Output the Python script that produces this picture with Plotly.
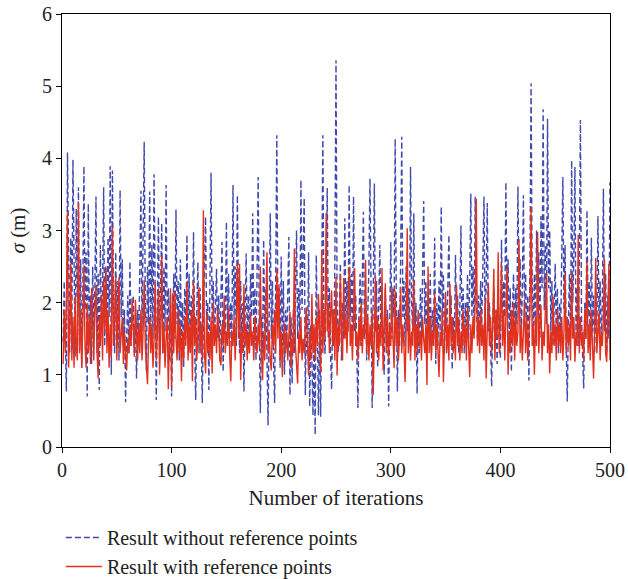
import plotly.graph_objects as go

iterations = list(range(1, 501))

without_ref = [
    1.45, 2.3, 1.6, 0.77, 4.08, 2.2, 1.3, 2.9, 1.7, 3.98,
    2.4, 1.25, 3.3, 2.0, 3.6, 1.4, 2.6, 1.1, 2.2, 3.89,
    1.9, 2.7, 0.7, 3.37, 1.5, 2.1, 1.15, 2.5, 1.6, 2.2,
    3.47, 1.3, 2.4, 0.79, 2.8, 1.6, 2.2, 3.6, 1.4, 2.5,
    1.5, 2.9, 1.8, 3.89, 1.0, 3.83, 2.0, 1.3, 2.7, 1.6,
    2.3, 1.2, 3.56, 1.8, 2.6, 1.4, 1.9, 0.62, 1.5, 2.1,
    1.3, 2.57, 1.4, 1.8, 2.1, 1.3, 1.7, 0.95, 1.9, 1.4,
    2.4, 3.55, 1.6, 2.6, 4.23, 2.0, 1.05, 2.5, 1.7, 3.54,
    1.6, 2.8, 1.5, 3.78, 2.1, 0.65, 2.0, 3.19, 1.4, 2.3,
    3.1, 1.3, 2.5, 1.6, 3.63, 1.5, 2.2, 1.2, 2.1, 0.7,
    1.8, 2.4, 1.5, 3.29, 1.7, 2.3, 1.2, 2.6, 1.4, 2.0,
    1.1, 2.2, 1.5, 2.94, 1.6, 2.4, 1.3, 2.1, 1.5, 2.98,
    1.4, 0.65, 1.9, 2.56, 1.3, 2.2, 1.5, 0.61, 1.8, 2.4,
    3.19, 1.6, 2.0, 0.79, 2.5, 3.8, 1.7, 2.3, 1.4, 2.0,
    2.47, 1.5, 2.1, 1.3, 2.0, 2.84, 1.04, 1.9, 1.5, 3.12,
    1.6, 2.4, 1.3, 2.0, 1.5, 3.63, 1.8, 2.5, 1.4, 3.49,
    2.0, 1.3, 2.3, 1.6, 2.0, 0.77, 1.7, 2.68, 1.5, 2.1,
    1.3, 2.4, 1.8, 3.24, 1.5, 2.2, 1.2, 2.5, 3.74, 1.6,
    0.47, 1.8, 1.3, 2.87, 1.6, 2.2, 1.4, 0.3, 1.8, 3.24,
    1.5, 2.3, 1.2, 0.61, 2.4, 4.32, 1.7, 2.2, 1.1, 2.64,
    1.4, 2.3, 1.0, 1.9, 1.4, 2.2, 2.91, 0.72, 1.8, 0.88,
    1.9, 1.3, 2.4, 3.0, 1.5, 2.2, 1.6, 3.7, 1.9, 2.6,
    3.45, 0.72, 1.8, 1.3, 2.7, 0.56, 1.7, 1.2, 0.44, 1.6,
    0.17, 2.66, 1.3, 0.44, 1.9, 0.42, 2.3, 4.32, 1.6, 1.29,
    2.4, 3.59, 1.5, 2.2, 1.3, 0.8, 1.9, 1.4, 2.6, 5.36,
    2.0, 1.3, 1.8, 2.54, 1.2, 2.0, 1.5, 3.17, 1.7, 2.3,
    1.6, 3.63, 1.8, 2.4, 1.4, 3.47, 1.6, 2.1, 1.3, 0.54,
    1.8, 2.4, 1.4, 2.2, 3.26, 1.5, 2.1, 1.2, 1.9, 2.5,
    3.72, 1.7, 0.54, 2.2, 3.65, 1.6, 2.3, 1.1, 1.8, 2.8,
    1.5, 2.1, 1.3, 1.0, 2.2, 1.4, 1.9, 0.56, 1.7, 2.84,
    1.5, 2.2, 1.8, 4.27, 2.1, 0.77, 1.9, 1.4, 2.6, 4.3,
    1.8, 2.3, 1.4, 2.5, 1.6, 2.2, 1.5, 3.88, 2.0, 1.6,
    3.24, 1.5, 2.0, 0.74, 1.8, 1.3, 2.2, 1.5, 2.4, 3.41,
    1.7, 2.3, 1.2, 2.0, 1.5, 2.4, 1.3, 1.9, 1.5, 2.9,
    1.15, 2.0, 1.4, 2.3, 1.6, 3.33, 1.8, 2.4, 1.3, 2.0,
    1.5, 2.2, 2.94, 1.6, 2.1, 1.07, 1.8, 1.4, 2.66, 1.6,
    2.1, 1.3, 1.9, 3.07, 1.5, 2.2, 1.3, 2.0, 1.6, 2.4,
    1.5, 2.3, 3.51, 1.8, 2.5, 1.6, 3.47, 2.2, 1.5, 2.1,
    1.4, 2.3, 1.7, 2.5, 3.47, 1.8, 2.2, 3.38, 1.6, 2.0,
    1.3, 0.84, 1.7, 2.2, 1.4, 1.9, 1.15, 2.1, 1.5, 1.23,
    2.87, 1.6, 2.3, 1.8, 3.67, 2.0, 2.6, 1.5, 2.2, 1.04,
    1.9, 2.4, 1.4, 2.2, 1.7, 3.61, 2.1, 2.6, 1.5, 2.2,
    3.49, 1.8, 2.4, 1.5, 2.1, 0.92, 2.6, 5.04, 2.3, 1.5,
    2.4, 1.6, 3.0, 2.0, 2.7, 1.5, 3.2, 2.2, 4.68, 1.9,
    2.8, 1.7, 4.55, 2.2, 3.0, 1.6, 2.3, 1.4, 1.9, 2.54,
    1.5, 2.2, 1.3, 2.0, 1.6, 2.6, 3.74, 1.9, 2.8, 1.5,
    0.63, 1.7, 2.4, 1.5, 3.97, 2.0, 2.6, 3.88, 1.6, 2.2,
    1.4, 2.5, 4.53, 1.8, 1.2, 0.81, 2.0, 1.5, 3.28, 1.8,
    2.3, 1.4, 2.9, 1.6, 2.1, 1.3, 2.0, 1.5, 3.2, 1.7,
    2.3, 1.4, 2.0, 3.58, 1.6, 2.4, 1.3, 2.1, 1.5, 3.67,
]

with_ref = [
    1.15, 1.9, 1.3, 2.0, 3.25, 1.1, 1.6, 2.54, 1.2, 1.8,
    1.1, 2.1, 1.4, 1.2, 3.38, 1.3, 1.9, 1.1, 1.7, 2.52,
    1.4, 1.1, 2.0, 1.3, 1.8, 1.15, 2.2, 1.5, 1.2, 1.9,
    2.24, 1.3, 0.95, 1.8, 1.4, 2.1, 1.2, 2.33, 1.6, 2.48,
    1.3, 1.9, 1.1, 1.7, 1.25, 3.05, 1.4, 1.8, 2.35, 1.2,
    1.7, 2.35, 1.3, 1.5, 1.8, 1.15, 1.6, 1.3, 1.06, 1.5,
    1.3, 1.7, 1.4, 2.06, 1.6, 1.25, 2.04, 1.5, 1.2, 1.7,
    1.3, 1.9, 1.2, 1.6, 2.31, 1.4, 1.1, 0.87, 1.5, 1.8,
    1.3, 1.7, 1.1, 1.5, 2.29, 1.2, 1.6, 2.2, 1.0, 1.5,
    2.65, 1.3, 1.7, 1.1, 1.5, 1.8, 0.8, 1.4, 2.2, 0.84,
    2.13, 1.3, 2.15, 1.5, 1.2, 1.9, 1.3, 1.7, 0.91, 1.6,
    1.2, 1.8, 1.4, 2.29, 1.2, 1.7, 1.3, 1.9, 0.91, 2.29,
    1.4, 1.8, 1.2, 1.6, 2.22, 1.3, 1.7, 1.2, 3.28, 1.3,
    1.02, 1.85, 1.3, 1.6, 1.2, 1.8, 1.02, 2.0, 1.4, 1.7,
    1.3, 1.9, 1.5, 1.2, 1.13, 1.7, 1.4, 2.1, 1.3, 1.6,
    1.4, 1.92, 1.3, 0.91, 1.6, 1.4, 1.8, 1.2, 1.7, 2.54,
    1.5, 2.54, 0.93, 1.6, 1.3, 2.26, 1.4, 1.7, 1.2, 1.6,
    1.3, 1.87, 1.4, 1.6, 1.2, 1.8, 1.5, 1.3, 1.7, 1.4,
    2.5, 1.3, 0.93, 1.6, 1.2, 1.8, 2.7, 1.3, 1.6, 1.2,
    1.06, 1.7, 1.4, 1.9, 1.3, 2.47, 1.5, 2.26, 1.2, 1.6,
    0.97, 1.5, 1.71, 1.3, 1.6, 1.2, 1.5, 1.87, 1.1, 1.5,
    1.3, 2.75, 1.4, 1.1, 0.88, 1.6, 1.3, 1.8, 1.2, 1.5,
    1.3, 1.7, 1.94, 1.4, 0.99, 1.6, 1.2, 2.12, 1.3, 1.7,
    1.2, 1.8, 1.4, 2.12, 1.5, 1.04, 2.73, 1.3, 1.9, 1.5,
    3.24, 1.6, 2.0, 1.3, 1.8, 2.17, 1.4, 1.9, 1.2, 2.36,
    0.99, 1.7, 1.4, 2.4, 1.5, 1.2, 2.34, 1.5, 1.8, 1.3,
    1.9, 2.5, 1.4, 1.7, 1.2, 1.9, 2.48, 1.4, 1.6, 1.2,
    1.8, 1.4, 2.0, 1.3, 1.7, 1.5, 2.59, 1.3, 1.8, 1.2,
    1.7, 1.4, 1.9, 0.72, 1.6, 2.36, 1.3, 1.8, 1.2, 1.7,
    1.4, 2.48, 1.06, 1.6, 2.27, 1.3, 1.8, 1.2, 1.7, 1.4,
    2.22, 1.5, 1.09, 2.17, 1.4, 1.8, 1.2, 1.6, 2.22, 1.3,
    1.7, 1.4, 0.9, 1.6, 3.03, 1.3, 1.8, 1.2, 1.6, 1.4,
    2.31, 1.2, 1.7, 1.3, 1.9, 1.4, 1.6, 1.2, 1.8, 1.5,
    1.3, 1.7, 0.86, 2.5, 1.3, 1.8, 1.2, 1.6, 1.4, 2.13,
    1.3, 1.7, 1.2, 0.97, 1.6, 1.4, 1.9, 0.9, 1.5, 2.15,
    1.3, 1.7, 1.2, 2.26, 1.4, 1.8, 1.3, 1.6, 1.2, 2.24,
    1.4, 1.8, 1.2, 1.6, 1.3, 1.9, 1.4, 1.7, 1.2, 1.94,
    1.4, 0.97, 1.7, 1.3, 1.8, 1.5, 2.0, 3.44, 1.4, 1.8,
    1.3, 1.9, 1.4, 1.7, 1.2, 2.04, 0.95, 1.6, 2.27, 1.4,
    1.8, 1.3, 1.7, 2.47, 1.2, 1.9, 1.5, 2.7, 1.3, 1.8,
    2.54, 1.4, 1.9, 1.2, 1.7, 2.47, 1.0, 1.6, 1.3, 1.9,
    1.4, 2.0, 1.2, 1.8, 1.4, 1.6, 2.88, 1.3, 1.7, 1.2,
    1.6, 2.01, 1.3, 1.8, 1.2, 1.5, 1.9, 3.33, 1.4, 1.7,
    1.0, 1.8, 1.4, 2.98, 1.3, 1.7, 1.97, 1.2, 1.6, 1.4,
    1.8, 2.4, 1.3, 1.7, 1.02, 1.6, 1.3, 2.08, 1.4, 1.7,
    1.2, 1.9, 1.4, 1.7, 1.3, 1.8, 1.2, 1.6, 2.4, 1.3,
    1.8, 1.4, 1.7, 1.2, 2.4, 1.5, 1.8, 1.18, 1.6, 1.4,
    2.94, 1.3, 1.8, 1.4, 1.6, 1.2, 1.9, 1.5, 2.59, 1.3,
    1.7, 1.2, 1.9, 1.4, 0.95, 1.6, 2.62, 1.3, 1.7, 1.85,
    1.2, 1.6, 1.4, 1.8, 2.6, 1.3, 1.18, 1.7, 2.54, 1.2,
]

x_ticks = [0, 100, 200, 300, 400, 500]
y_ticks = [0, 1, 2, 3, 4, 5, 6]

FONT = "Liberation Serif"

fig = go.Figure()
fig.add_trace(go.Scatter(
    x=iterations, y=without_ref, mode="lines",
    name="Result without reference points",
    line=dict(color="#4049ad", width=1.4, dash="6px,3px"),
))
fig.add_trace(go.Scatter(
    x=iterations, y=with_ref, mode="lines",
    name="Result with reference points",
    line=dict(color="#e0301e", width=1.4),
))

axis_common = dict(
    showline=True, linecolor="black", linewidth=1, mirror=True,
    ticks="outside", ticklen=5, tickcolor="black", tickwidth=1,
    showgrid=False, zeroline=False, automargin=False,
    tickfont=dict(family=FONT, size=20, color="#222"),
)

fig.update_layout(
    width=628, height=579,
    margin=dict(l=62, r=18, t=14, b=132),
    paper_bgcolor="white", plot_bgcolor="white",
    font=dict(family=FONT, size=20, color="#222"),
    xaxis=dict(range=[0, 500], tickvals=x_ticks,
               title=dict(text="Number of iterations", font=dict(family=FONT, size=21), standoff=10),
               **axis_common),
    yaxis=dict(range=[0, 6], tickvals=y_ticks,
               title=dict(text="<i>σ</i> (m)", font=dict(family=FONT, size=21), standoff=10),
               **axis_common),
    showlegend=True,
    legend=dict(
        orientation="v", xref="paper", x=-0.002, xanchor="left",
        yref="container", y=0.1054, yanchor="top",
        font=dict(family=FONT, size=20, color="#222"),
        bgcolor="rgba(0,0,0,0)", itemwidth=36,
    ),
)

fig.write_html("out.html")
